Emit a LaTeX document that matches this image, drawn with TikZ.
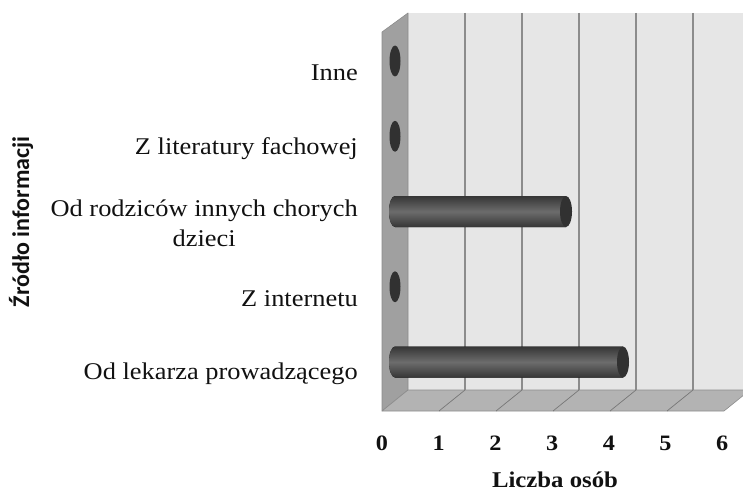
\documentclass[tikz,border=0pt]{standalone}
\usepackage{fontspec}
\setmainfont{Liberation Serif}[FakeStretch=1.1]
\newfontfamily\chSans{Carlito}
\usetikzlibrary{positioning}
\definecolor{chWall}{HTML}{E6E6E6}
\definecolor{chSide}{HTML}{A0A0A0}
\definecolor{chFloor}{HTML}{B3B3B3}
\definecolor{chGrid}{HTML}{8C8C8C}
\definecolor{chBarDark}{HTML}{363636}
\definecolor{chBarLight}{HTML}{6C6C6C}
\definecolor{chInk}{HTML}{111111}
\tikzset{
  ch diagram/.style={x=1pt, y=-1pt, text=chInk, line join=round},
  ch wall/.style={fill=chWall},
  ch side/.style={fill=chSide, draw=chGrid, line width=0.6pt},
  ch floor/.style={fill=chFloor, draw=chGrid, line width=0.6pt},
  ch grid/.style={draw=chGrid, line width=1.4pt},
  ch floorgrid/.style={draw=chGrid!85!black, line width=0.7pt},
  ch cat/.style={font=\fontsize{24}{30}\selectfont, anchor=east,
    align=center, inner sep=0pt},
  ch tick/.style={font=\fontsize{22}{24}\selectfont\bfseries, inner sep=0pt},
  ch title/.style={font=\fontsize{22.5}{26}\selectfont\bfseries, inner sep=0pt},
  ch ytitle/.style={font=\chSans\fontsize{24}{28}\selectfont\bfseries,
    rotate=90, inner sep=0pt},
  ch bar/.style={top color=chBarDark, bottom color=chBarDark,
    middle color=chBarLight},
  ch cap/.style={fill=chBarDark!90!black}
}

\begin{document}
\begin{tikzpicture}[ch diagram]
\useasboundingbox (0,0) rectangle (743,492);
\clip (0,0) rectangle (743,492);
% walls and floor
\fill[ch wall] (408,13) rectangle (750,390);
\filldraw[ch side] (382,32) -- (408,13) -- (408,390) -- (382,411) -- cycle;
\filldraw[ch floor] (382,411) -- (408,390) -- (750,390) -- (724,411) -- cycle;
\foreach \k in {1,...,5}{
  \draw[ch grid] ({408+57*\k},13) -- ({408+57*\k},390);
  \draw[ch floorgrid] ({408+57*\k},390) -- ({382+57*\k},411);
}
\foreach \k in {0,...,6}
  \node[ch tick] (tick\k) at ({382+56.7*\k},443) {\k};
% cylinders
\foreach \v/\name [count=\i from 0] in {4/Od lekarza prowadzącego,0/Z internetu,
    3/{Od rodziców innych chorych\\dzieci},0/Z literatury fachowej,0/Inne}{
  \pgfmathsetmacro{\yy}{362-75.25*\i}
  \ifnum\v>0
    \fill[ch bar] (395,\yy+15.5) arc[start angle=90, end angle=270,
      x radius=6, y radius=15.5] -- ({395+57*\v},\yy-15.5)
      -- ({395+57*\v},\yy+15.5) -- cycle;
    \fill[ch cap] ({395+57*\v},\yy) ellipse (6 and 15.5);
  \else
    \fill[ch cap] (395,\yy) ellipse (5.5 and 15.5);
  \fi
  \node[ch cat] (cat\i) at (358,\yy+12) {\name};
}
\node[ch title] (xtitle) at (555,480) {Liczba osób};
\node[ch ytitle] (ytitle) at (21,222) {Źródło informacji};
\end{tikzpicture}
\end{document}
